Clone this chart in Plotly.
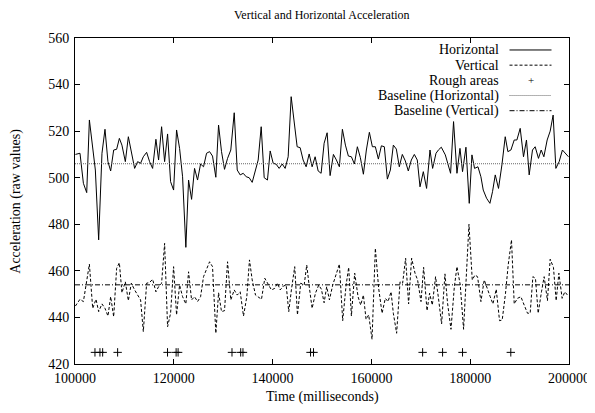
import plotly.graph_objects as go

# ---------------- data ----------------
time_h = [100080, 101010, 101700, 102370, 102910, 103580, 104120, 104790, 105460, 106070, 106670, 107220, 107830, 108430, 108980, 109500, 110190, 110800, 111400, 112070, 112680, 113280, 113830, 114500, 115100, 115710, 116380, 116920, 117530, 118140, 118740, 119350, 119960, 120560, 121170, 121780, 122440, 122990, 123600, 124200, 124810, 125420, 126020, 126630, 127240, 127840, 128510, 129060, 129660, 130270, 130880, 131540, 132230, 132840, 133440, 134050, 134660, 135260, 135870, 136480, 137080, 137690, 138300, 138960, 139510, 140120, 140720, 141330, 141940, 142540, 143150, 143760, 144360, 144970, 145580, 146180, 146790, 147400, 148000, 148610, 149220, 149820, 150430, 151040, 151640, 152310, 152920, 153520, 154130, 154740, 155340, 155950, 156560, 157160, 157770, 158380, 158980, 159590, 160200, 160800, 161410, 162020, 162620, 163230, 163840, 164440, 165050, 165650, 166260, 166870, 167470, 168080, 168690, 169290, 169840, 170510, 171170, 171860, 172390, 173080, 173600, 174150, 174960, 176030, 176630, 177320, 177930, 178450, 179140, 179810, 180350, 180880, 181570, 182170, 182640, 183310, 183990, 184520, 185070, 185730, 186420, 187090, 187630, 188240, 188910, 189450, 190120, 190790, 191390, 191940, 192610, 193150, 193820, 194370, 194910, 195580, 196190, 196790, 197340, 198010, 198670, 199280, 199890]

horizontal = [510, 510.5, 497.6, 493.6, 524.8, 511.9, 503.3, 473.3, 510.5, 520.8, 506.9, 502.9, 511.9, 512.2, 516.9, 514, 506.9, 517.6, 510.5, 504, 506.9, 506.2, 509, 510.9, 506.9, 504, 516.5, 507.6, 521.9, 506.9, 518.8, 498.3, 494.7, 520.5, 512.6, 500.4, 470.1, 499, 490.7, 504, 499, 505.9, 504.7, 510.5, 511.2, 509.3, 500.2, 522.6, 511.2, 503.6, 508.3, 511.9, 527.9, 503.3, 501.2, 501.9, 500.4, 500, 498, 502.3, 507.6, 521.9, 500, 499, 511.5, 506.2, 505.8, 504, 505.9, 504, 509, 534.8, 524.1, 513.3, 512.9, 507.6, 504.7, 510.2, 504.7, 509, 502.9, 501.9, 514.8, 519.3, 500.9, 510, 507.6, 504.7, 520.8, 514, 509.3, 509, 505.9, 513.3, 508.6, 501.5, 511.9, 519.5, 513.3, 513.3, 508, 513.7, 513.3, 499.4, 503.3, 514, 512.3, 504.7, 510, 507.2, 502.9, 507.6, 510, 507.6, 496.1, 502.6, 495.4, 511.9, 504, 510.5, 512, 513.1, 509.8, 501.9, 524.1, 501.9, 512.6, 502.6, 513.1, 489, 509.8, 504, 504.7, 500.4, 494.7, 491.2, 489, 494, 501.2, 495.4, 505.5, 517.6, 511.2, 511.9, 516.2, 516.2, 521.2, 509, 516.2, 501.2, 511.9, 513.3, 508.3, 511.9, 509, 516.2, 520, 526.9, 504, 506.9, 511.9, 510.5, 509]

time_v = [100080, 101010, 101700, 102370, 102910, 103580, 104250, 104790, 105460, 106070, 106670, 107220, 107830, 108430, 108980, 109500, 110190, 110800, 111400, 112070, 112680, 113280, 113830, 114500, 115100, 115710, 116380, 116920, 117530, 118140, 118740, 119350, 119960, 120560, 121170, 121780, 122440, 122990, 123600, 124200, 124810, 125420, 126020, 126630, 127240, 127840, 128510, 129060, 129660, 130270, 130880, 131540, 132230, 132840, 133440, 134110, 134780, 135320, 135870, 136540, 137200, 137750, 138420, 139110, 139770, 140440, 140990, 141530, 142200, 142750, 143270, 143820, 144480, 145030, 145700, 146390, 146910, 147460, 148000, 148670, 149340, 149880, 150430, 150950, 151500, 152170, 152860, 153520, 154190, 154880, 155400, 155950, 156620, 157300, 157830, 158380, 158920, 159450, 160130, 160800, 161470, 162160, 162820, 163370, 163980, 164440, 165110, 165800, 166320, 166930, 167530, 168140, 168830, 169350, 170040, 170570, 171260, 171780, 172330, 172990, 173540, 174210, 174890, 175420, 176110, 176780, 177320, 177990, 178660, 179750, 180420, 180960, 181490, 182170, 182840, 183390, 184050, 184600, 185270, 185940, 186480, 187150, 187690, 188360, 188910, 189570, 190260, 190930, 191600, 192140, 192690, 193210, 193760, 194430, 194970, 195640, 196190, 196850, 197400, 197950, 198610, 199160, 199690]

vertical = [444.9, 447.8, 446.8, 456.1, 462.9, 443.9, 447.8, 442.5, 445.8, 443.9, 440.6, 448.9, 440.3, 461.1, 463.5, 450.6, 455.3, 447.2, 454.7, 451.8, 449.6, 447.5, 433.9, 454.7, 455, 456.4, 451, 453.2, 454.7, 471.8, 436, 441.8, 461.8, 441.1, 453.9, 448.9, 445.8, 459.6, 447.5, 448.9, 446.8, 448.9, 457.5, 460.4, 463.9, 461.8, 433.2, 450.6, 442.5, 442.9, 463.9, 447.5, 451.8, 449.6, 451, 440.6, 448.9, 464.7, 456.1, 449.6, 448.6, 447.8, 456.8, 453.9, 451.8, 452.5, 454.7, 451.8, 453.5, 453.9, 442.5, 452.1, 461.8, 441.1, 454.7, 453.9, 462.5, 452.5, 443.9, 450.4, 453.9, 452.1, 446.3, 453.2, 447.5, 453.9, 459, 462.9, 438.6, 453.9, 461.5, 440.6, 459, 448.9, 445.3, 449.6, 439.2, 441.1, 430.6, 469.7, 452.5, 441.8, 448.2, 446.8, 451, 441.8, 433.2, 455.3, 454.7, 465.4, 445.8, 465.4, 459, 456.1, 446.8, 461.5, 442.9, 450.4, 445.3, 457.5, 448.9, 437.2, 458.7, 446.1, 434.9, 452.9, 461.8, 453.9, 434.9, 480, 456.1, 458.2, 457.5, 446.8, 456.1, 452.5, 448.9, 445.8, 452.1, 438.6, 438.9, 450.4, 462.5, 473.3, 445.8, 448.2, 448.9, 445.3, 441.8, 441.8, 457.5, 456.8, 441.8, 451, 457.5, 447.2, 465, 461.5, 447.2, 459, 448.2, 451, 449.6]

rough_times = [104040, 105050, 105600, 108630, 118730, 120470, 120870, 131780, 133540, 134000, 147680, 148280, 170370, 174410, 178450, 188220]
rough_values = [425] * len(rough_times)

baseline_horizontal = 506
baseline_vertical = 454

x_ticks = [100000, 120000, 140000, 160000, 180000, 200000]
y_ticks = [420, 440, 460, 480, 500, 520, 540, 560]

legend_labels = ["Horizontal", "Vertical", "Rough areas",
                 "Baseline (Horizontal)", "Baseline (Vertical)"]

if len(time_h) != len(horizontal) or len(time_v) != len(vertical):
    raise SystemExit(f"length mismatch {len(time_h)} {len(horizontal)} {len(time_v)} {len(vertical)}")

# ---------------- styling ----------------
FONT = "Liberation Serif"
DASH_V = "3px,2px"
DOT_H = "1px,1px"
DASHDOT = "5px,2px,1px,2px"
GRAY = "#666666"

# The page has an 8px body margin, so the figure is laid out in page
# coordinates shifted by OFF.
OFF = 8
PAGE_W, PAGE_H = 595, 413
W, H = PAGE_W - OFF, PAGE_H - OFF
# plot area in page pixels (measured on the reference)
L_p, R_p, T_p, B_p = 75.3, 569.5, 38, 364.5
L, R, T, B = L_p - OFF, R_p - OFF, T_p - OFF, B_p - OFF
pw, ph = R - L, B - T


def px(xpage):
    return (xpage - OFF - L) / pw


def py(ypage):
    return (B - (ypage - OFF)) / ph


fig = go.Figure()
x_range = [x_ticks[0], x_ticks[-1]]

fig.add_trace(go.Scatter(x=time_h, y=horizontal, mode="lines",
                         line=dict(color="black", width=1), name=legend_labels[0]))
fig.add_trace(go.Scatter(x=time_v, y=vertical, mode="lines",
                         line=dict(color="black", width=1, dash=DASH_V), name=legend_labels[1]))
fig.add_trace(go.Scatter(x=rough_times, y=rough_values, mode="markers",
                         marker=dict(symbol="cross-thin", size=6,
                                     line=dict(color="black", width=1)),
                         name=legend_labels[2]))
fig.add_trace(go.Scatter(x=x_range, y=[baseline_horizontal] * 2, mode="lines",
                         line=dict(color=GRAY, width=1, dash=DOT_H), name=legend_labels[3]))
fig.add_trace(go.Scatter(x=x_range, y=[baseline_vertical] * 2, mode="lines",
                         line=dict(color="black", width=1, dash=DASHDOT), name=legend_labels[4]))

# --- manual legend (text right-aligned, sample on the right, as in gnuplot) ---
rows = [50, 65.2, 80.4, 95.6, 110.8]
text_right = 501
samp_l, samp_r = 510, 552
styles = [
    dict(color="black", width=1),
    dict(color="black", width=1, dash=DASH_V),
    None,
    dict(color=GRAY, width=1, dash=DOT_H),
    dict(color="black", width=1, dash=DASHDOT),
]
annotations = []
shapes = []
for lab, ry, st in zip(legend_labels, rows, styles):
    annotations.append(dict(x=px(text_right), y=py(ry), xref="paper", yref="paper",
                            text=lab, showarrow=False, xanchor="right", yanchor="middle",
                            font=dict(family=FONT, size=14, color="black")))
    if st is None:
        annotations.append(dict(x=px((samp_l + samp_r) / 2), y=py(ry), xref="paper", yref="paper",
                                text="+", showarrow=False, xanchor="center", yanchor="middle",
                                font=dict(family=FONT, size=11, color="black")))
    else:
        shapes.append(dict(type="line", xref="paper", yref="paper",
                           x0=px(samp_l), x1=px(samp_r), y0=py(ry), y1=py(ry), line=st))

# axis titles & title
annotations.append(dict(x=px((L_p + R_p) / 2), y=py(397.5), xref="paper", yref="paper",
                        text="Time (milliseconds)", showarrow=False,
                        xanchor="center", yanchor="middle",
                        font=dict(family=FONT, size=14, color="black")))
annotations.append(dict(x=px(16), y=py((T_p + B_p) / 2), xref="paper", yref="paper",
                        text="Acceleration (raw values)", showarrow=False, textangle=-90,
                        xanchor="center", yanchor="middle",
                        font=dict(family=FONT, size=14, color="black")))
annotations.append(dict(x=px((L_p + R_p) / 2), y=py(15), xref="paper", yref="paper",
                        text="Vertical and Horizontal Acceleration", showarrow=False,
                        xanchor="center", yanchor="middle",
                        font=dict(family=FONT, size=12, color="black")))

axis_common = dict(showline=True, linecolor="black", linewidth=1, mirror="ticks",
                   ticks="inside", ticklen=5, tickwidth=1, tickcolor="black",
                   showgrid=False, zeroline=False,
                   tickfont=dict(family=FONT, size=14, color="black"))

fig.update_layout(
    width=W, height=H,
    margin=dict(l=L, r=W - R, t=T, b=H - B, autoexpand=False),
    paper_bgcolor="white", plot_bgcolor="white",
    showlegend=False,
    annotations=annotations, shapes=shapes,
    xaxis=dict(range=x_range, tickvals=x_ticks, ticktext=[str(v) for v in x_ticks],
               ticklabelstandoff=1, **axis_common),
    yaxis=dict(range=[y_ticks[0], y_ticks[-1]], tickvals=y_ticks,
               ticktext=[str(v) for v in y_ticks], ticklabelstandoff=2, **axis_common),
)

fig.write_html("out.html")
